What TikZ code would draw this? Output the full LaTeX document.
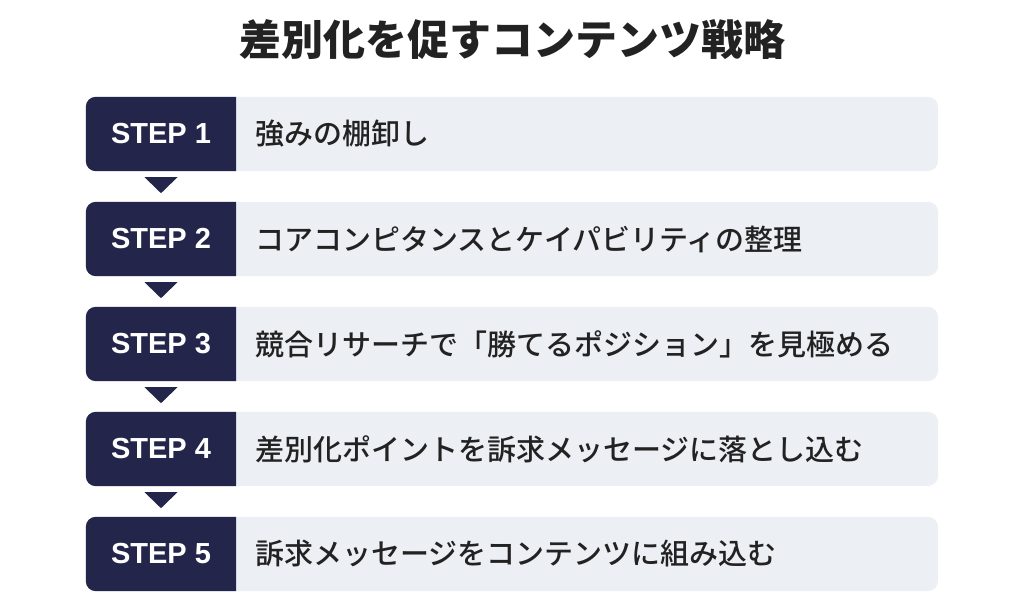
\documentclass[tikz,border=0pt]{standalone}
\usepackage{fontspec}
\setmainfont{Liberation Sans}
\newfontfamily\jpfont{Noto Sans CJK JP}
\newfontfamily\jpmedium{Noto Sans CJK JP Medium}
\usetikzlibrary{backgrounds}
\definecolor{stepnavy}{HTML}{23264A}
\definecolor{rowgray}{HTML}{ECF0F4}
\definecolor{inkgray}{HTML}{222222}
\tikzset{every node/.style={inner sep=0pt},
  steplabel/.style={text=white,font=\bfseries\fontsize{29}{29}\selectfont,
    minimum width=150pt,minimum height=74pt},
  rowtext/.style={anchor=west,text=inkgray,font=\jpmedium\fontsize{29}{29}\selectfont}}

\begin{document}
\begin{tikzpicture}[x=1pt,y=-1pt]
  \useasboundingbox (0,0) rectangle (1024,591);
  \node[text=inkgray,font=\jpfont\bfseries\fontsize{42}{42}\selectfont] (title) at (512,40) {差別化を促すコンテンツ戦略};
  \foreach \i/\txt in {1/強みの棚卸し,
      2/コアコンピタンスとケイパビリティの整理,
      3/競合リサーチで「勝てるポジション」を見極める,
      4/差別化ポイントを訴求メッセージに落とし込む,
      5/訴求メッセージをコンテンツに組み込む} {
    \node[steplabel] (s\i) at (161,{134+105*(\i-1)}) {STEP \i};
    \node[rowtext] (t\i) at (255,{134+105*(\i-1)}) {\txt};
    \begin{scope}[on background layer]
      \fill[rowgray,rounded corners=10pt] (s\i.north west) rectangle (938,{171+105*(\i-1)});
      \fill[stepnavy] (s\i.north east) [rounded corners=10pt] -- (s\i.north west) -- (s\i.south west) [sharp corners] -- (s\i.south east) -- cycle;
    \end{scope}
  }
  % arrows between the steps
  \foreach \i in {1,...,4}
    \fill[stepnavy] ([xshift=-16.5pt,yshift=-6pt]s\i.south) -- ++(33,0) -- ([yshift=-22pt]s\i.south) -- cycle;
\end{tikzpicture}
\end{document}
